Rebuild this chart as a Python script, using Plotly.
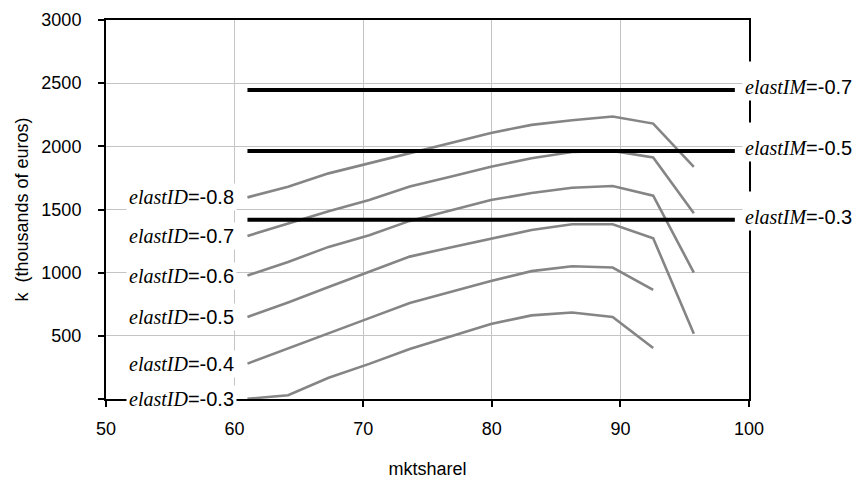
import plotly.graph_objects as go

# ---- data ----
mktshare = [61.0, 64.16, 67.31, 70.47, 73.62, 76.78, 79.93, 83.09, 86.24, 89.40, 92.55, 95.71]

k_id_08 = [1596, 1680, 1786, 1865, 1947, 2027, 2106, 2170, 2206, 2236, 2180, 1838]
k_id_07 = [1291, 1391, 1486, 1575, 1682, 1760, 1838, 1906, 1955, 1964, 1912, 1470]
k_id_06 = [977, 1085, 1204, 1296, 1410, 1492, 1575, 1630, 1672, 1686, 1609, 1001]
k_id_05 = [649, 764, 886, 1004, 1127, 1199, 1271, 1338, 1383, 1383, 1273, 517]
k_id_04 = [280, 401, 525, 640, 760, 847, 934, 1012, 1051, 1041, 864]
k_id_03 = [2, 30, 168, 278, 396, 497, 594, 662, 685, 649, 404]

id_labels = ["-0.8", "-0.7", "-0.6", "-0.5", "-0.4", "-0.3"]
id_series = [k_id_08, k_id_07, k_id_06, k_id_05, k_id_04, k_id_03]

im_labels = ["-0.7", "-0.5", "-0.3"]
im_values = [2446, 1964, 1419]
im_x = [61.0, 98.9]

x_ticks = [50, 60, 70, 80, 90, 100]
y_ticks = [0, 500, 1000, 1500, 2000, 2500, 3000]
y_ticktext = ["", "500", "1000", "1500", "2000", "2500", "3000"]

SANS = "Liberation Sans, Arial, sans-serif"
SERIF = "Liberation Serif, Times New Roman, serif"
FS = 18
LFS = 20

fig = go.Figure()

for lab, ys in zip(id_labels, id_series):
    fig.add_trace(go.Scatter(
        x=mktshare[:len(ys)], y=ys, mode="lines",
        line=dict(color="#858585", width=2.6),
        name="elastID=" + lab, showlegend=False, hoverinfo="skip"))

for lab, v in zip(im_labels, im_values):
    fig.add_trace(go.Scatter(
        x=im_x, y=[v, v], mode="lines",
        line=dict(color="black", width=4),
        name="elastIM=" + lab, showlegend=False, hoverinfo="skip"))

annotations = []
for lab, ys in zip(id_labels, id_series):
    annotations.append(dict(
        x=60.15, y=ys[0], xref="x", yref="y", xanchor="right", yanchor="middle",
        text=f"<span style='font-family:{SERIF}'><i>elastID</i></span>={lab}",
        showarrow=False, bgcolor="white", borderpad=2,
        font=dict(family=SANS, size=LFS, color="black")))
for lab, v in zip(im_labels, im_values):
    annotations.append(dict(
        x=99.42, y=v, xref="x", yref="y", xanchor="left", yanchor="middle",
        text=f"<span style='font-family:{SERIF}'><i>elastIM</i></span>={lab}",
        showarrow=False, bgcolor="white", borderpad=2,
        height=34, valign="bottom", yshift=9,
        font=dict(family=SANS, size=LFS, color="black")))

fig.update_layout(
    width=864, height=479,
    margin=dict(l=106, r=114.5, t=19.5, b=79.5, autoexpand=False),
    paper_bgcolor="white", plot_bgcolor="white",
    font=dict(family=SANS, size=FS, color="black"),
    annotations=annotations,
)

fig.update_xaxes(
    range=[50, 100], tickvals=x_ticks, automargin=False,
    showgrid=True, gridcolor="#c4c4c4", gridwidth=1.2,
    showline=True, linecolor="black", linewidth=2, mirror=True,
    ticks="outside", ticklen=6, tickwidth=1.5, tickcolor="black",
    ticklabelstandoff=6,
    tickfont=dict(family=SANS, size=FS),
    title=dict(text="mktsharel", standoff=26, font=dict(family=SANS, size=FS)),
    zeroline=False,
)
fig.update_yaxes(
    range=[0, 3000], tickvals=y_ticks, ticktext=y_ticktext, automargin=False,
    showgrid=True, gridcolor="#c4c4c4", gridwidth=1.2,
    showline=True, linecolor="black", linewidth=2, mirror=True,
    ticks="outside", ticklen=6, tickwidth=1.5, tickcolor="black",
    ticklabelstandoff=13,
    tickfont=dict(family=SANS, size=FS),
    title=dict(text="k\u00a0 (thousands of euros)", standoff=8, font=dict(family=SANS, size=FS)),
    zeroline=False,
)

fig.write_html("out.html", config={"displayModeBar": False},
               post_script="document.body.style.margin='0px';")
